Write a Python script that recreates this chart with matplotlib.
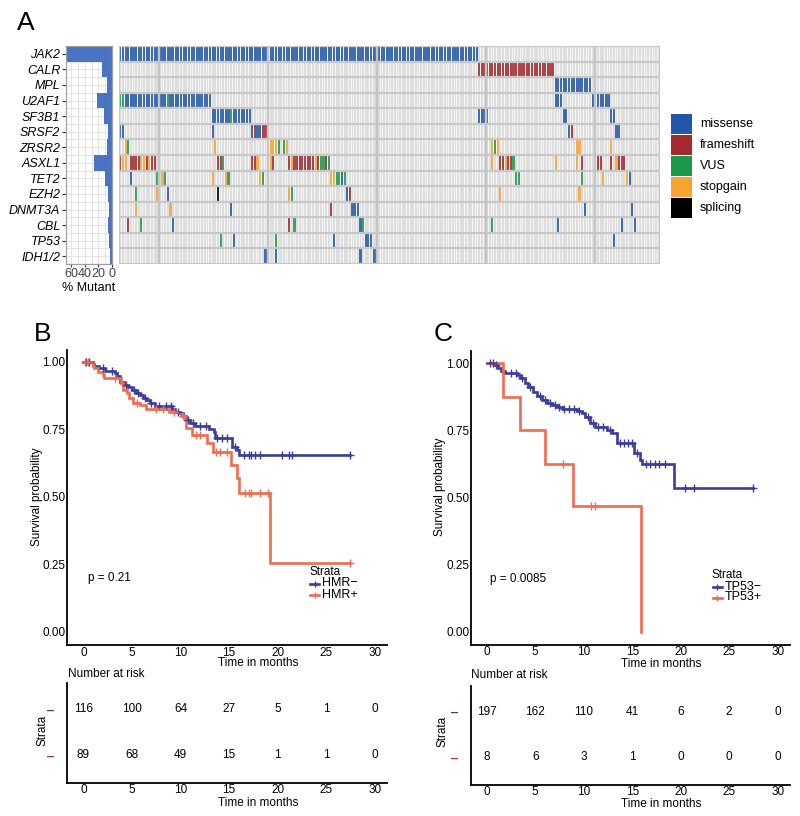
import matplotlib
matplotlib.use('Agg')
import matplotlib.pyplot as plt
from matplotlib.lines import Line2D
from matplotlib.patches import Rectangle
import numpy as np

plt.rcParams['font.family'] = ['Liberation Sans', 'DejaVu Sans']

# ---------------------------------------------------------------- data
N_SAMPLES = 205
genes = ['JAK2', 'CALR', 'MPL', 'U2AF1', 'SF3B1', 'SRSF2', 'ZRSR2', 'ASXL1',
         'TET2', 'EZH2', 'DNMT3A', 'CBL', 'TP53', 'IDH1/2']

# mutation runs: (first sample, last sample, type)
# m = missense, f = frameshift, v = VUS, s = stopgain, x = splicing
JAK2 = [(0, 135, 'm')]
CALR = [(136, 164, 'f')]
MPL = [(165, 178, 'm')]
U2AF1 = [(0, 1, 'v'), (2, 17, 'm'), (18, 18, 'v'), (19, 34, 'm'), (165, 167, 'm'), (179, 185, 'm')]
SF3B1 = [(35, 41, 'm'), (42, 42, 'v'), (43, 49, 'm'), (136, 139, 'm'), (168, 169, 'm'), (186, 187, 'm')]
SRSF2 = [(0, 1, 'm'), (35, 35, 'm'), (50, 50, 'm'), (51, 51, 'f'), (52, 53, 'm'), (54, 55, 'f'),
         (170, 170, 'm'), (171, 171, 'f'), (188, 189, 'm')]
ZRSR2 = [(2, 2, 's'), (3, 3, 'v'), (36, 36, 's'), (57, 59, 's'), (60, 60, 'v'), (62, 62, 'v'),
         (63, 63, 's'), (141, 141, 's'), (142, 142, 'v'), (143, 143, 's'), (173, 174, 's'), (186, 186, 's')]
ASXL1 = [(0, 0, 'f'), (1, 2, 's'), (4, 7, 'f'), (8, 9, 's'), (10, 10, 'f'), (11, 11, 's'), (12, 13, 'f'),
         (37, 38, 'f'), (39, 39, 'v'), (50, 51, 'f'), (52, 52, 's'), (57, 57, 's'), (58, 58, 'f'),
         (64, 64, 'f'), (65, 65, 's'), (66, 73, 'f'), (74, 74, 's'), (75, 75, 'f'), (76, 77, 'v'),
         (78, 78, 'f'), (79, 79, 'v'), (141, 141, 's'), (144, 145, 'f'), (146, 146, 's'), (147, 148, 'f'),
         (149, 149, 'v'), (165, 165, 's'), (173, 173, 's'), (175, 175, 'f'), (180, 182, 'f'),
         (186, 186, 'f'), (188, 188, 's'), (189, 191, 'f')]
TET2 = [(4, 4, 'm'), (14, 14, 'v'), (16, 16, 's'), (17, 17, 'v'), (35, 35, 's'), (40, 40, 's'),
        (41, 41, 'v'), (53, 53, 's'), (54, 54, 'v'), (80, 81, 's'), (82, 83, 'v'), (84, 84, 'm'),
        (85, 85, 'v'), (150, 151, 'v'), (175, 175, 'v'), (183, 183, 's'), (192, 192, 's'), (193, 193, 'm')]
EZH2 = [(6, 6, 'v'), (14, 14, 's'), (18, 18, 'm'), (37, 37, 'x'), (64, 64, 's'), (65, 65, 'v'),
        (86, 86, 'm'), (87, 87, 'f'), (144, 144, 's'), (174, 174, 's'), (180, 180, 'v')]
DNMT3A = [(6, 6, 's'), (19, 19, 's'), (42, 42, 'm'), (80, 80, 'f'), (88, 90, 'm'), (176, 176, 'm'),
          (194, 194, 'm')]
CBL = [(3, 3, 'f'), (8, 8, 'v'), (20, 20, 'm'), (64, 64, 'f'), (66, 66, 'v'), (91, 91, 'm'),
       (92, 92, 'v'), (141, 141, 'v'), (166, 166, 'm'), (190, 190, 'm'), (195, 195, 'm')]
TP53 = [(38, 38, 'v'), (43, 43, 'm'), (59, 59, 'v'), (81, 81, 'm'), (93, 95, 'm'), (187, 187, 'm')]
IDH12 = [(55, 55, 'm'), (59, 59, 'm'), (91, 91, 'm'), (96, 97, 'm')]
gene_mutations = [JAK2, CALR, MPL, U2AF1, SF3B1, SRSF2, ZRSR2, ASXL1, TET2, EZH2, DNMT3A, CBL, TP53, IDH12]

mut_codes = ['m', 'f', 'v', 's', 'x']
mut_labels = ['missense', 'frameshift', 'VUS', 'stopgain', 'splicing']
mut_colors = ['#2257a7', '#a3282f', '#1c9a4c', '#f6a431', '#000000']

# Kaplan-Meier curves (step times / survival after step), censor times
hmr_neg_t = [0, 1.0, 1.1, 1.6, 2.2, 3.3, 3.5, 3.8, 4.2, 4.6, 5.0, 5.4, 5.8, 6.1, 6.5, 6.9, 7.4,
             9.1, 9.4, 9.9, 10.3, 10.6, 11.0, 11.5, 12.9, 13.4, 13.5, 15.3, 15.8, 16.0, 27.4]
hmr_neg_s = [1.0, 0.99, 0.985, 0.975, 0.965, 0.957, 0.947, 0.926, 0.915, 0.905, 0.895, 0.885,
             0.875, 0.865, 0.857, 0.848, 0.834, 0.824, 0.815, 0.81, 0.797, 0.784, 0.772, 0.762,
             0.75, 0.741, 0.716, 0.685, 0.672, 0.654, 0.654]
hmr_neg_cens = [0.3, 0.6, 2.0, 3.0, 4.4, 5.2, 5.6, 6.3, 7.0, 7.8, 8.5, 9.0, 9.7, 10.8, 11.3, 12.0,
                12.6, 13.8, 14.3, 14.8, 15.6, 16.5, 17.0, 17.3, 17.7, 18.2, 20.4, 21.2, 21.5, 27.4]
hmr_pos_t = [0, 1.0, 1.1, 1.5, 2.0, 2.1, 3.9, 4.1, 4.5, 4.7, 5.1, 5.8, 6.4, 6.5, 8.8, 9.8, 10.1,
             10.5, 10.6, 11.2, 12.7, 13.3, 15.2, 15.8, 16.0, 19.2, 27.4]
hmr_pos_s = [1.0, 0.985, 0.975, 0.96, 0.95, 0.938, 0.92, 0.895, 0.885, 0.865, 0.848, 0.84, 0.83,
             0.824, 0.815, 0.81, 0.797, 0.784, 0.753, 0.728, 0.70, 0.667, 0.617, 0.568, 0.512,
             0.256, 0.256]
hmr_pos_cens = [0.2, 0.5, 3.3, 5.5, 7.5, 8.2, 9.3, 10.3, 11.6, 12.0, 13.7, 14.1, 14.8, 16.6,
                17.0, 17.3, 18.2, 19.0, 27.4]
tp53_neg_t = [0, 0.85, 1.2, 1.5, 1.9, 3.1, 3.4, 3.9, 4.3, 4.8, 5.2, 5.7, 6.2, 6.7, 7.2, 7.9, 9.3,
              9.8, 10.1, 10.6, 11.2, 12.4, 12.9, 13.4, 15.2, 15.8, 16.0, 19.3, 27.5]
tp53_neg_s = [1.0, 0.994, 0.981, 0.973, 0.965, 0.957, 0.944, 0.925, 0.913, 0.894, 0.878, 0.863,
              0.853, 0.845, 0.836, 0.829, 0.824, 0.814, 0.801, 0.776, 0.764, 0.752, 0.739, 0.702,
              0.665, 0.64, 0.625, 0.534, 0.534]
tp53_neg_cens = [0.3, 0.6, 1.0, 2.5, 3.0, 3.6, 4.5, 5.5, 6.0, 6.5, 7.0, 7.5, 8.0, 8.5, 9.0, 9.5,
                 10.4, 11.0, 11.5, 12.0, 12.7, 13.7, 14.2, 14.6, 15.0, 15.5, 16.4, 16.8, 17.3,
                 17.8, 18.4, 20.4, 21.4, 27.5]
tp53_pos_t = [0, 1.7, 3.4, 6.0, 8.9, 15.9]
tp53_pos_s = [1.0, 0.875, 0.75, 0.625, 0.469, 0.0]
tp53_pos_cens = [7.9, 10.8, 11.2]

time_ticks = [0, 5, 10, 15, 20, 25, 30]
risk_hmr_neg = [116, 100, 64, 27, 5, 1, 0]
risk_hmr_pos = [89, 68, 49, 15, 1, 1, 0]
risk_tp53_neg = [197, 162, 110, 41, 6, 2, 0]
risk_tp53_pos = [8, 6, 3, 1, 0, 0, 0]

BLUE = '#3b3d97'
RED = '#f26a4f'

# ---------------------------------------------------------------- figure
W, H = 800, 816
fig = plt.figure(figsize=(W / 100, H / 100), dpi=100)


def add_ax(x0, y0, x1, y1):
    return fig.add_axes([x0 / W, 1 - y1 / H, (x1 - x0) / W, (y1 - y0) / H])


def ftext(x, y, s, **kw):
    return fig.text(x / W, 1 - y / H, s, **kw)


FS = 8.5

# ---------------- Panel A: oncoprint
ax = add_ax(119, 46, 660, 264)
ax.set_xlim(-0.5, N_SAMPLES - 0.5)
ax.set_ylim(len(genes), 0)
ax.set_facecolor('#f5f5f5')
cols = np.arange(N_SAMPLES)
color_of = dict(zip(mut_codes, mut_colors))
for i, runs in enumerate(gene_mutations):
    ax.bar(cols, 1, bottom=i, width=0.68, color='#dedede', linewidth=0, align='center')
    for a, b, t in runs:
        c = np.arange(a, b + 1)
        ax.bar(c, 1, bottom=i, width=0.8, color=color_of[t], linewidth=0, align='center',
               alpha=0.85)
for i in range(len(genes) + 1):
    ax.axhline(i, color='#c8c8c8', lw=1.6, zorder=5)
for xs in [14.8, 56.1, 97.4, 138.7, 180.0]:
    ax.axvline(xs, color='#c4c4c4', lw=1.7, zorder=5)
ax.axvline(-0.5, color='#c8c8c8', lw=1.6, zorder=5)
ax.axvline(N_SAMPLES - 0.5, color='#c8c8c8', lw=1.6, zorder=5)
ax.set_xticks([]); ax.set_yticks([])
for sp in ax.spines.values():
    sp.set_visible(False)

# bar chart of % mutant
axb = add_ax(66, 46, 112, 264)
pct = []
for runs in gene_mutations:
    pct.append(100.0 * sum(b - a + 1 for a, b, t in runs) / N_SAMPLES)
ypos = np.arange(len(genes)) + 0.5
axb.set_xlim(67.5, 0)
axb.set_ylim(len(genes), 0)
axb.set_xticks([60, 40, 20, 0])
axb.set_xticks([50, 30, 10], minor=True)
axb.set_yticks(ypos)
axb.set_yticks(np.arange(len(genes) + 1), minor=True)
axb.grid(True, which='both', color='#e4e4e4', lw=0.8)
axb.set_axisbelow(True)
axb.barh(ypos, pct, height=1.0, color='#4a73c1', linewidth=0)
axb.set_yticklabels(genes, fontstyle='italic', fontsize=9)
axb.set_xticklabels(['60', '40', '20', '0'], fontsize=9, color='#444444')
axb.tick_params(axis='y', length=3, pad=1, color='#333333')
axb.tick_params(axis='x', length=2, pad=1, color='#333333')
axb.tick_params(which='minor', length=0)
for sp in axb.spines.values():
    sp.set_color('#a0a0a0'); sp.set_linewidth(0.9)
axb.set_xlabel('% Mutant', fontsize=9, labelpad=1)

# legend
axl = add_ax(668, 110, 792, 222)
axl.set_xlim(668, 792); axl.set_ylim(222, 110)
axl.axis('off')
for k, (lab, col) in enumerate(zip(mut_labels, mut_colors)):
    y0 = 114 + k * 21
    axl.add_patch(Rectangle((671, y0), 21, 20, facecolor=col, edgecolor='none'))
    axl.text(700, y0 + 10, lab, fontsize=9, va='center', ha='left')

ftext(26, 23, 'A', fontsize=19, ha='center', va='center')


# ---------------- KM helpers
def km_curve(ax, t, s, cens, color):
    ax.step(t, s, where='post', color=color, lw=1.9, solid_joinstyle='miter', zorder=3)
    t_arr = np.asarray(t); s_arr = np.asarray(s)
    idx = np.searchsorted(t_arr, cens, side='right') - 1
    ax.plot(cens, s_arr[idx], ls='none', marker='+', ms=6, mew=1.0, color=color, zorder=4)


def km_axes(x0, y0, x1, y1, xlim):
    ax = add_ax(x0, y0, x1, y1)
    ax.set_xlim(*xlim)
    ax.set_ylim(-0.05, 1.045)
    for sp in ['top', 'right']:
        ax.spines[sp].set_visible(False)
    for sp in ['left', 'bottom']:
        ax.spines[sp].set_linewidth(1.3)
    ax.set_xticks(time_ticks)
    ax.set_xticklabels([str(v) for v in time_ticks])
    ax.set_yticks([0, 0.25, 0.5, 0.75, 1.0])
    ax.set_yticklabels(['0.00', '0.25', '0.50', '0.75', '1.00'])
    ax.tick_params(length=0, labelsize=FS, pad=1)
    return ax


def risk_axes(x0, y0, x1, y1, xlim, rows, colors):
    ax = add_ax(x0, y0, x1, y1)
    ax.set_xlim(*xlim)
    ax.set_ylim(0.39, 2.57)
    for sp in ['top', 'right']:
        ax.spines[sp].set_visible(False)
    for sp in ['left', 'bottom']:
        ax.spines[sp].set_linewidth(1.3)
    ax.set_xticks(time_ticks)
    ax.set_xticklabels([str(v) for v in time_ticks])
    ax.set_yticks([2, 1])
    ax.set_yticklabels(['\u2012', '\u2012'], fontsize=9, fontweight='bold')
    for lab, c in zip(ax.get_yticklabels(), colors):
        lab.set_color(c)
    ax.tick_params(axis='x', length=0, labelsize=FS, pad=0.5)
    ax.tick_params(axis='y', length=0, pad=9)
    for r, vals in zip([2, 1], rows):
        for tt, v in zip(time_ticks, vals):
            ax.text(tt, r, str(v), fontsize=FS, ha='center', va='center')
    return ax


def legend(x, y, labels, colors):
    ftext(x, y, 'Strata', fontsize=FS, ha='left', va='center')
    for k, (lab, c) in enumerate(zip(labels, colors)):
        yy = y + 11.5 + k * 11
        fig.add_artist(Line2D([(x + 1) / W, (x + 10) / W], [1 - yy / H, 1 - yy / H],
                              color=c, lw=1.9, transform=fig.transFigure))
        fig.add_artist(Line2D([(x + 5.5) / W], [1 - yy / H], marker='+', ms=5, mew=1.0,
                              color=c, transform=fig.transFigure))
        ftext(x + 13, yy, lab, fontsize=FS + 0.5, ha='left', va='center')


# ---------------- Panel B
axB = km_axes(67, 349.5, 387, 645.2, (-1.68, 31.25))
km_curve(axB, hmr_neg_t, hmr_neg_s, hmr_neg_cens, BLUE)
km_curve(axB, hmr_pos_t, hmr_pos_s, hmr_pos_cens, RED)
ftext(88, 578, 'p = 0.21', fontsize=FS, ha='left', va='center')
legend(309, 572, ['HMR\u2212', 'HMR+'], [BLUE, RED])
ftext(37, 497, 'Survival probability', fontsize=FS, rotation=90, ha='center', va='center')
ftext(258, 663, 'Time in months', fontsize=FS, ha='center', va='center')
ftext(68, 674, 'Number at risk', fontsize=FS, ha='left', va='center')
risk_axes(67, 682.8, 387, 783, (-1.68, 31.25), [risk_hmr_neg, risk_hmr_pos], [BLUE, '#a8322b'])
ftext(42, 730, 'Strata', fontsize=FS, rotation=90, ha='center', va='center')
ftext(258, 803, 'Time in months', fontsize=FS, ha='center', va='center')
ftext(43, 334, 'B', fontsize=19, ha='center', va='center')

# ---------------- Panel C
axC = km_axes(470.7, 351.2, 790, 645.1, (-1.65, 31.27))
km_curve(axC, tp53_neg_t, tp53_neg_s, tp53_neg_cens, BLUE)
km_curve(axC, tp53_pos_t, tp53_pos_s, tp53_pos_cens, RED)
ftext(490, 579, 'p = 0.0085', fontsize=FS, ha='left', va='center')
legend(711.5, 575, ['TP53\u2212', 'TP53+'], [BLUE, RED])
ftext(440, 487, 'Survival probability', fontsize=FS, rotation=90, ha='center', va='center')
ftext(661, 664, 'Time in months', fontsize=FS, ha='center', va='center')
ftext(470.7, 675.5, 'Number at risk', fontsize=FS, ha='left', va='center')
risk_axes(470.7, 685.5, 790, 785, (-1.65, 31.27), [risk_tp53_neg, risk_tp53_pos], [BLUE, '#a8322b'])
ftext(443, 731, 'Strata', fontsize=FS, rotation=90, ha='center', va='center')
ftext(661, 804, 'Time in months', fontsize=FS, ha='center', va='center')
ftext(443, 334, 'C', fontsize=19, ha='center', va='center')

fig.savefig('out.png', dpi=100)
